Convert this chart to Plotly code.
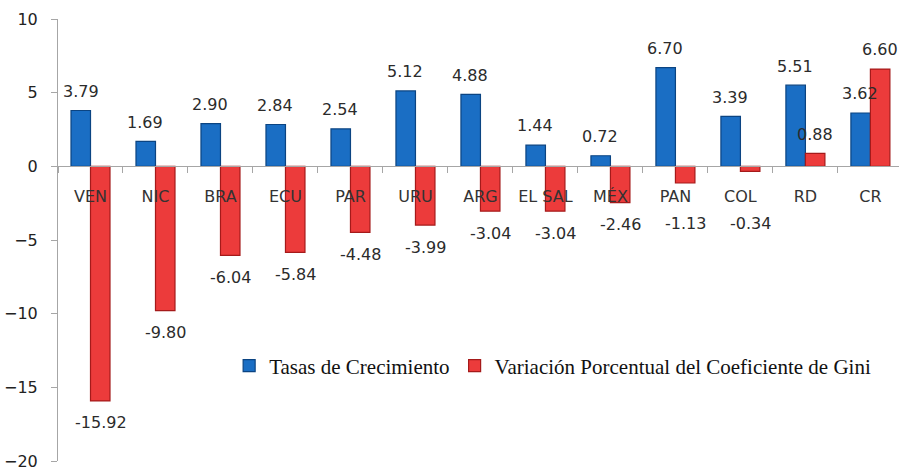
import plotly.graph_objects as go

categories = ["VEN", "NIC", "BRA", "ECU", "PAR", "URU", "ARG", "EL SAL", "MÉX", "PAN", "COL", "RD", "CR"]
crecimiento = [3.79, 1.69, 2.90, 2.84, 2.54, 5.12, 4.88, 1.44, 0.72, 6.70, 3.39, 5.51, 3.62]
gini = [-15.92, -9.80, -6.04, -5.84, -4.48, -3.99, -3.04, -3.04, -2.46, -1.13, -0.34, 0.88, 6.60]
series_names = ["Tasas de Crecimiento", "Variación Porcentual del Coeficiente de Gini"]
y_ticks = [10, 5, 0, -5, -10, -15, -20]

BLUE, BLUE_EDGE = "#1A6EC4", "#0B4482"
RED, RED_EDGE = "#EC3B3B", "#A51A1A"
TXT = "#2b2b2b"

fig = go.Figure()
fig.add_trace(go.Bar(x=categories, y=crecimiento, name=series_names[0],
                     marker=dict(color=BLUE, line=dict(color=BLUE_EDGE, width=1.2))))
fig.add_trace(go.Bar(x=categories, y=gini, name=series_names[1],
                     marker=dict(color=RED, line=dict(color=RED_EDGE, width=1.2))))


def label_pos(v):
    # above positive bars, below negative bars (kept clear of the category labels)
    return v + 1.3 if v >= 0 else min(v - 1.5, -3.9)


for vals, shift in ((crecimiento, -10), (gini, 10)):
    for c, v in zip(categories, vals):
        fig.add_annotation(x=c, y=label_pos(v), text=f"{v:.2f}", showarrow=False,
                           xshift=shift, yanchor="middle", xanchor="center",
                           font=dict(family="DejaVu Sans", size=16, color=TXT))

fig.update_layout(
    width=899, height=471,
    margin=dict(l=58, r=0, t=19, b=6),
    paper_bgcolor="white", plot_bgcolor="white",
    barmode="group", bargap=0.4, bargroupgap=0,
    showlegend=True,
    legend=dict(orientation="h", x=0.2035, y=0.215, xanchor="left", yanchor="middle",
                font=dict(family="Liberation Serif", size=21, color="#111"),
                bgcolor="rgba(0,0,0,0)", itemwidth=30),
    font=dict(family="DejaVu Sans", size=16, color=TXT),
)
fig.update_xaxes(type="category", range=[-0.5, 12.44], showgrid=False,
                 showline=True, linecolor="#a6a6a6", linewidth=1,
                 anchor="free", position=2 / 3,
                 ticks="outside", tickson="boundaries", ticklen=6, tickcolor="#a6a6a6",
                 ticklabelstandoff=15,
                 tickfont=dict(family="DejaVu Sans", size=16, color="#333"))
fig.update_yaxes(range=[-20, 10], tickvals=y_ticks, showgrid=False, zeroline=False,
                 showline=True, linecolor="#a6a6a6", linewidth=1,
                 ticks="outside", ticklen=6, tickcolor="#a6a6a6",
                 ticklabelstandoff=10, ticklabeloverflow="allow",
                 tickfont=dict(family="DejaVu Sans", size=16, color="#222"))

fig.write_html("out.html", config={"displayModeBar": False},
               post_script="document.body.style.margin='0px';")
